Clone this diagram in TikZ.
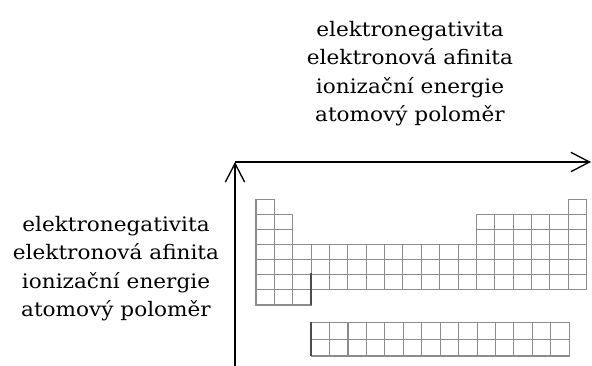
\documentclass[tikz,border=0pt]{standalone}
\usepackage{fontspec}
\setmainfont[FakeStretch = 1.08]{DejaVu Serif}
\usetikzlibrary{arrows.meta}
\tikzset{
  axis/.style = {line width = 1pt, -{Straight Barb[length = 14pt, width = 14.5pt]}},
  cell/.style = {draw = black!45, line width = 0.8pt},
  label/.style = {align = center, inner sep = 0pt, font = \fontsize{15}{21.2}\selectfont}
}
\begin{document}
\begin{tikzpicture}[x = 0.75pt, y = -0.75pt]
\useasboundingbox (0,0) rectangle (592,365);
% axes
\coordinate (o) at (235,162);
\coordinate (xend) at (591,162);
\coordinate (ybot) at (235,366);
\draw[axis] (ybot) -- (o);
\draw[axis] (o) -- (xend);
% main table
\foreach \r/\cols in {1/{1,18}, 2/{1,2,13,14,...,18}, 3/{1,2,13,14,...,18}, 4/{1,...,18}, 5/{1,...,18}, 6/{1,...,18}, 7/{1,2,3}}
  \foreach \c in \cols
    \draw[cell] ({256+(\c-1)*18.37},{199.3+(\r-1)*15.1}) rectangle ++(18.37,15.1);
% lanthanides
\foreach \r in {1,2}
  \foreach \c in {1,...,14}
    \draw[cell] ({311.1+(\c-1)*18.44},{322.3+(\r-1)*16.85}) rectangle ++(18.44,16.85);
\draw[black!70, line width = 1.2pt] (311.1,273.3) -- (311.1,305);
\draw[black!70, line width = 1.2pt] (311.1,322.3) -- (311.1,356);
% labels
\node[label, anchor = north] (top) at (410,21.2) {elektronegativita\\elektronová afinita\\ionizační energie\\atomový poloměr};
\node[label, anchor = north] (left) at (116,216) {elektronegativita\\elektronová afinita\\ionizační energie\\atomový poloměr};
\end{tikzpicture}
\end{document}
